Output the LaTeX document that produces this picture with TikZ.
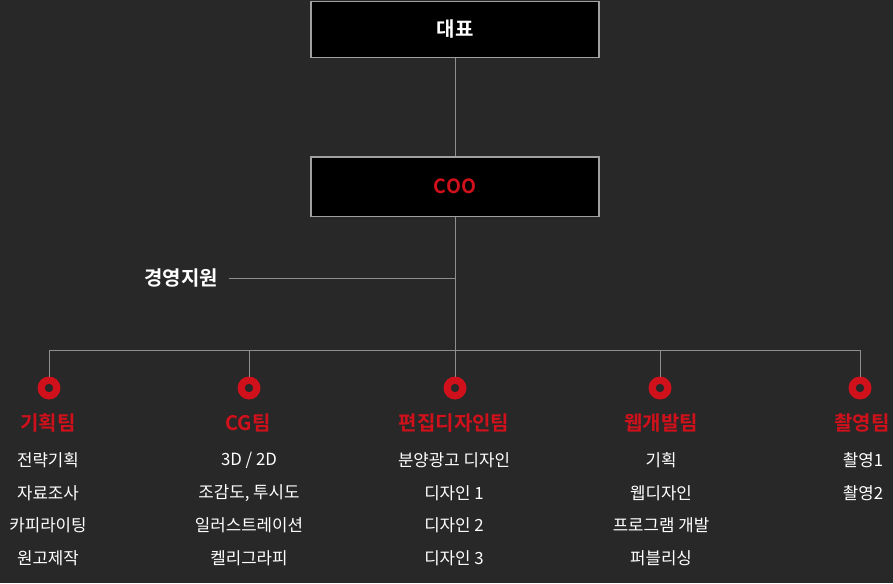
\documentclass[tikz,border=0pt]{standalone}
\usepackage{fontspec}
\setmainfont{Noto Sans CJK KR}
\newfontfamily\krbold{Noto Sans CJK KR Bold}
\definecolor{bg}{HTML}{282828}
\definecolor{redc}{HTML}{D0111B}
\definecolor{linec}{HTML}{8E8E8E}
\definecolor{boxline}{HTML}{A0A0A0}
\tikzset{
  topbox/.style={draw=boxline, line width=1.3pt, fill=black, minimum width=288pt, inner sep=0pt, anchor=north},
  conn/.style={draw=linec, line width=1pt},
  ring/.style={circle, fill=redc, minimum size=23pt, inner sep=0pt, outer sep=0pt,
    path picture={\fill[bg] (path picture bounding box.center) circle (4.2pt);}},
  team/.style={text=redc, font=\krbold\fontsize{20}{22}\selectfont, inner sep=0pt},
  item/.style={text=white, font=\fontsize{16.8}{19}\selectfont, inner sep=0pt},
}
\begin{document}
\begin{tikzpicture}[x=1pt,y=-1pt]
\fill[bg] (0,0) rectangle (893,583);
\useasboundingbox (0,0) rectangle (893,583);
\node[topbox, minimum height=56.5pt] (ceo) at (455,0.6) {};
\node[text=white, font=\krbold\fontsize{20}{22}\selectfont] (ceot) at (ceo.center) {대표};
\node[topbox, minimum height=59.5pt] (coo) at (455,156.3) {};
\node[text=redc, font=\krbold\fontsize{19.5}{22}\selectfont] (coot) at (coo.center) {COO};
\node[text=white, font=\krbold\fontsize{20}{22}\selectfont, inner sep=0pt] (gy) at (181,278) {경영지원};
\coordinate (ks) at (455,278);
\coordinate (jc) at (455,350);
\coordinate (j1) at (49,350);
\coordinate (j2) at (249,350);
\coordinate (j4) at (660,350);
\coordinate (j5) at (860,350);
\draw[conn] (ceo.south) -- (coo.north);
\draw[conn] (coo.south) -- (jc);
\draw[conn] ([xshift=11pt]gy.east) -- (ks);
\draw[conn] (j1) -- (j5);
\node[ring] (c1) at (49,388) {};
\node[ring] (c2) at (249,388) {};
\node[ring] (c3) at (455,388) {};
\node[ring] (c4) at (660,388) {};
\node[ring] (c5) at (860,388) {};
\draw[conn] (j1) -- (c1.north);
\draw[conn] (j2) -- (c2.north);
\draw[conn] (jc) -- (c3.north);
\draw[conn] (j4) -- (c4.north);
\draw[conn] (j5) -- (c5.north);
% teams
\node[team] (t1) at (48,423) {기획팀};
\node[team] (t2) at (248,423) {CG팀};
\node[team] (t3) at (454,423) {편집디자인팀};
\node[team] (t4) at (661,423) {웹개발팀};
\node[team] (t5) at (862,423) {촬영팀};
% items
\node[item] (a1) at (48,460) {전략기획};
\node[item] (a2) at (48,493) {자료조사};
\node[item] (a3) at (48,525) {카피라이팅};
\node[item] (a4) at (48,558) {원고제작};
\node[item] (b1) at (249,460) {3D / 2D};
\node[item] (b2) at (249,493) {조감도, 투시도};
\node[item] (b3) at (249,525) {일러스트레이션};
\node[item] (b4) at (249,558) {켈리그라피};
\node[item] (d1) at (454,460) {분양광고 디자인};
\node[item] (d2) at (454,493) {디자인 1};
\node[item] (d3) at (454,525) {디자인 2};
\node[item] (d4) at (454,558) {디자인 3};
\node[item] (e1) at (661,460) {기획};
\node[item] (e2) at (661,493) {웹디자인};
\node[item] (e3) at (661,525) {프로그램 개발};
\node[item] (e4) at (661,558) {퍼블리싱};
\node[item] (f1) at (863,460) {촬영1};
\node[item] (f2) at (863,493) {촬영2};
\end{tikzpicture}
\end{document}
